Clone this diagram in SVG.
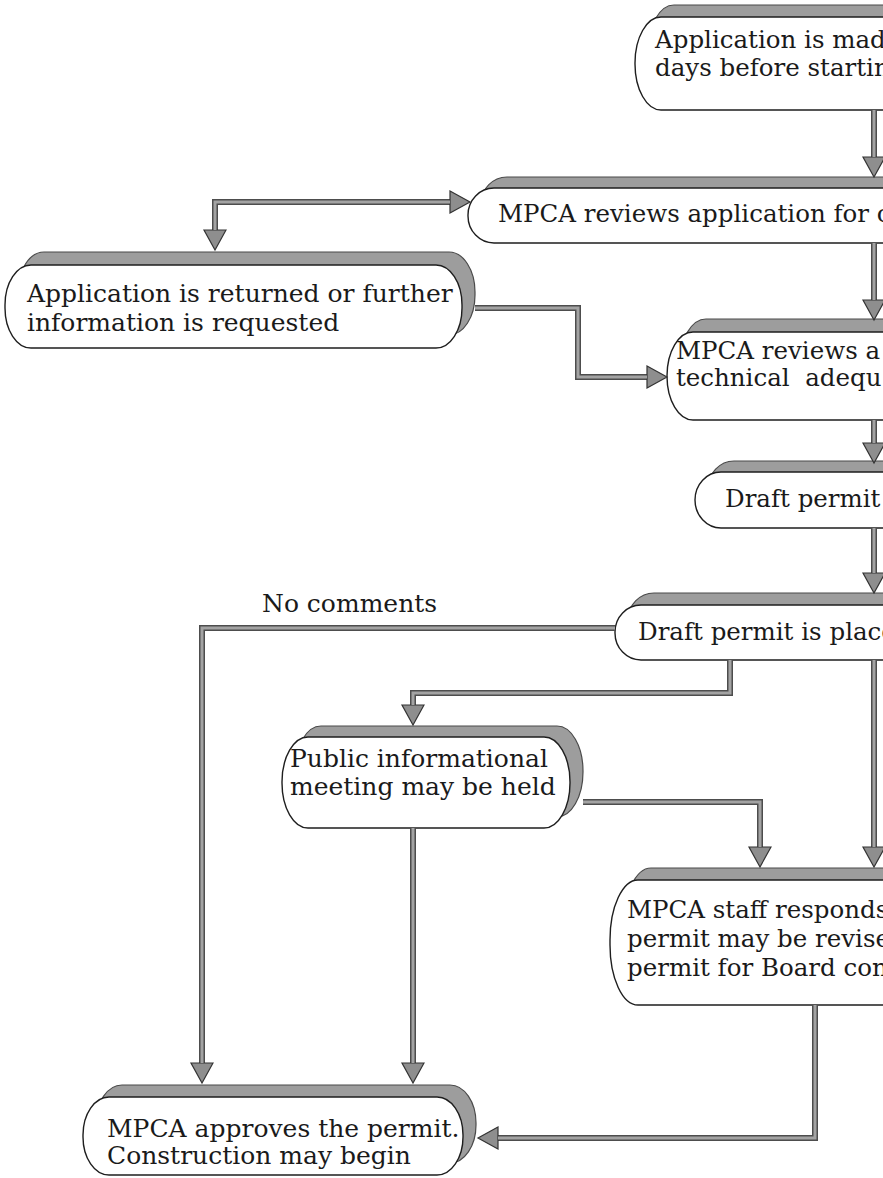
<svg xmlns="http://www.w3.org/2000/svg" width="883" height="1178" viewBox="0 0 883 1178">
<style>
.sh{fill:#9d9d9d;stroke:#4a4a4a;stroke-width:1.2}
.bx{fill:#ffffff;stroke:#1e1e1e;stroke-width:1.4}
.t{font-family:"DejaVu Serif","Liberation Serif",serif;font-size:24.5px;fill:#1a1a1a}
.w{font-size:25px}
.lo{fill:none;stroke:#4d4d4d;stroke-width:6}
.li{fill:none;stroke:#a3a3a3;stroke-width:3}
</style>
<defs>
<marker id="ah" markerUnits="userSpaceOnUse" viewBox="-2 -13 24 26" refX="0" refY="0" markerWidth="24" markerHeight="26" orient="auto-start-reverse">
<path d="M0,-11 L20,0 L0,11 Z" fill="#8e8e8e" stroke="#333" stroke-width="1.2"/>
</marker>
</defs>
<rect width="883" height="1178" fill="#ffffff"/>

<g id="n1">
<rect class="sh" x="648" y="5" width="320" height="93" rx="26" ry="46"/>
<rect class="bx" x="635" y="17" width="320" height="93" rx="26" ry="46"/>
<text class="t" x="655" y="48">Application is mad</text>
<text class="t" x="655" y="76">days before startin</text>
</g>
<g id="n2">
<rect class="sh" x="481" y="177" width="480" height="55" rx="26" ry="27"/>
<rect class="bx" x="468" y="188" width="480" height="55" rx="26" ry="27"/>
<text class="t" x="498" y="222">MPCA reviews application for c</text>
</g>
<g id="n3">
<rect class="sh" x="18" y="252" width="457" height="83" rx="26" ry="40"/>
<rect class="bx" x="5" y="265" width="457" height="83" rx="26" ry="40"/>
<text class="t w" x="27" y="302">Application is returned or further</text>
<text class="t w" x="27" y="331">information is requested</text>
</g>
<g id="n4">
<rect class="sh" x="680" y="319" width="300" height="88" rx="26" ry="44"/>
<rect class="bx" x="667" y="332" width="300" height="88" rx="26" ry="44"/>
<text class="t" x="676" y="359">MPCA reviews a</text>
<text class="t" x="676" y="386" xml:space="preserve">technical  adequ</text>
</g>
<g id="n5">
<rect class="sh" x="708" y="461" width="260" height="56" rx="26" ry="28"/>
<rect class="bx" x="695" y="472" width="260" height="56" rx="26" ry="28"/>
<text class="t" x="725" y="507">Draft permit</text>
</g>
<g id="n6">
<rect class="sh" x="628" y="593" width="340" height="55" rx="26" ry="27"/>
<rect class="bx" x="615" y="605" width="340" height="55" rx="26" ry="27"/>
<text class="t" x="638" y="640">Draft permit is place</text>
</g>
<g id="n7">
<rect class="sh" x="295" y="726" width="288" height="91" rx="26" ry="45"/>
<rect class="bx" x="282" y="737" width="288" height="91" rx="26" ry="45"/>
<text class="t w" x="290" y="767">Public informational</text>
<text class="t w" x="290" y="795">meeting may be held</text>
</g>
<g id="n8">
<rect class="sh" x="623" y="868" width="340" height="125" rx="28" ry="60"/>
<rect class="bx" x="610" y="880" width="340" height="125" rx="28" ry="60"/>
<text class="t" x="627" y="918">MPCA staff responds</text>
<text class="t" x="627" y="947">permit may be revise</text>
<text class="t" x="627" y="976">permit for Board con</text>
</g>
<g id="n9">
<rect class="sh" x="96" y="1085" width="380" height="78" rx="26" ry="38"/>
<rect class="bx" x="83" y="1097" width="380" height="78" rx="26" ry="38"/>
<text class="t w" x="107" y="1137">MPCA approves the permit.</text>
<text class="t w" x="107" y="1164">Construction may begin</text>
</g>

<text id="lbl" class="t w" x="262" y="612">No comments</text>

<g id="connectors">
<path class="lo" d="M874,110 V157" marker-end="url(#ah)"/>
<path class="li" d="M874,110 V157"/>
<path class="lo" d="M450,202 H215 V230" marker-start="url(#ah)" marker-end="url(#ah)"/>
<path class="li" d="M450,202 H215 V230"/>
<path class="lo" d="M475,308 H578 V377 H647" marker-end="url(#ah)"/>
<path class="li" d="M475,308 H578 V377 H647"/>
<path class="lo" d="M874,243 V300" marker-end="url(#ah)"/>
<path class="li" d="M874,243 V300"/>
<path class="lo" d="M874,420 V443" marker-end="url(#ah)"/>
<path class="li" d="M874,420 V443"/>
<path class="lo" d="M874,528 V573" marker-end="url(#ah)"/>
<path class="li" d="M874,528 V573"/>
<path class="lo" d="M615,628 H202 V1063" marker-end="url(#ah)"/>
<path class="li" d="M615,628 H202 V1063"/>
<path class="lo" d="M730,660 V693 H413 V705" marker-end="url(#ah)"/>
<path class="li" d="M730,660 V693 H413 V705"/>
<path class="lo" d="M583,802 H760 V847" marker-end="url(#ah)"/>
<path class="li" d="M583,802 H760 V847"/>
<path class="lo" d="M874,660 V847" marker-end="url(#ah)"/>
<path class="li" d="M874,660 V847"/>
<path class="lo" d="M413,828 V1063" marker-end="url(#ah)"/>
<path class="li" d="M413,828 V1063"/>
<path class="lo" d="M815,1005 V1138 H498" marker-end="url(#ah)"/>
<path class="li" d="M815,1005 V1138 H498"/>
</g>
</svg>
